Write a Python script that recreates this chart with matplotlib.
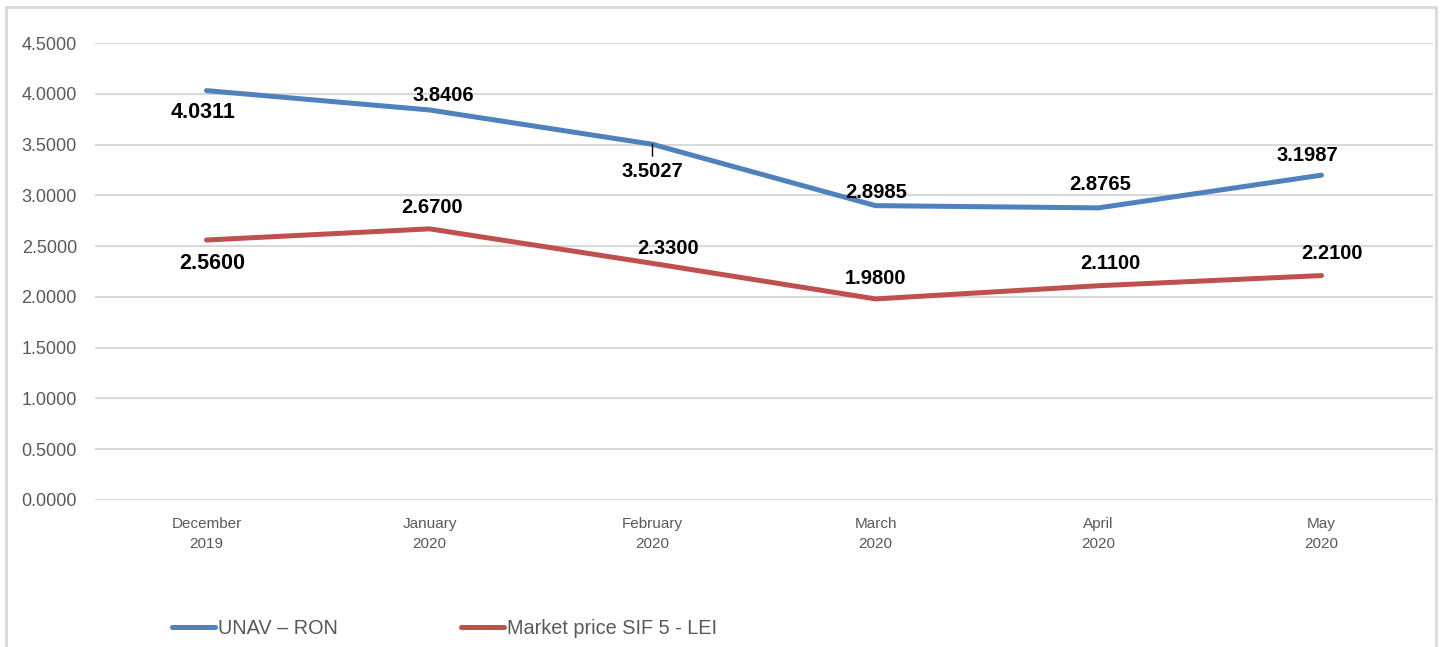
import matplotlib
matplotlib.use("Agg")
import matplotlib.pyplot as plt
from matplotlib.patches import Rectangle

categories = ["December\n2019", "January\n2020", "February\n2020", "March\n2020", "April\n2020", "May\n2020"]
unav_ron = [4.0311, 3.8406, 3.5027, 2.8985, 2.8765, 3.1987]
market_price = [2.5600, 2.6700, 2.3300, 1.9800, 2.1100, 2.2100]
series_names = ["UNAV – RON", "Market price SIF 5 - LEI"]
y_ticks = [0.0, 0.5, 1.0, 1.5, 2.0, 2.5, 3.0, 3.5, 4.0, 4.5]

# label offsets in pixels (dx, dy) relative to each point
unav_offsets = [(-3, -22), (14, 14), (0, -27), (1, 13), (2, 23), (-14, 20)]
market_offsets = [(6, -23), (3, 21), (16, 15), (0, 20), (12, 22), (10, 22)]
unav_sizes = [15.5, 14.5, 14.5, 14.5, 14.5, 14.5]
market_sizes = [15.5, 14.5, 14.5, 14.5, 14.5, 14.5]

plt.rcParams['font.family'] = ['Liberation Sans', 'DejaVu Sans']

fig = plt.figure(figsize=(14.42, 6.47), dpi=100)
ax = fig.add_axes([95/1442, 147/647, 1338/1442, 457/647])

blue = "#4F81BD"
red = "#C0504D"
gray_text = "#595959"
grid = "#D9D9D9"

x = list(range(len(categories)))
l1, = ax.plot(x, unav_ron, color=blue, lw=3.6, solid_capstyle='round', label=series_names[0], zorder=3)
l2, = ax.plot(x, market_price, color=red, lw=3.6, solid_capstyle='round', label=series_names[1], zorder=3)

ax.set_xlim(-0.5, len(categories) - 0.5)
ax.set_ylim(0, 4.5)
ax.set_yticks(y_ticks)
ax.set_yticklabels([f"{v:.4f}" for v in y_ticks])
ax.set_xticks(x)
ax.set_xticklabels(categories, linespacing=1.55)
ax.yaxis.grid(True, color=grid, lw=1.5)
ax.set_axisbelow(True)
for s in ax.spines.values():
    s.set_visible(False)
ax.tick_params(axis='both', length=0, colors=gray_text)
ax.tick_params(axis='y', labelsize=13, pad=13)
ax.tick_params(axis='x', labelsize=11, pad=12)

for i, v in enumerate(unav_ron):
    dx, dy = unav_offsets[i]
    kw = {}
    if i == 2:
        kw['arrowprops'] = dict(arrowstyle='-', color='black', lw=1, shrinkA=2, shrinkB=0)
    ax.annotate(f"{v:.4f}", (i, v), xytext=(dx, dy), textcoords='offset pixels',
                ha='center', va='center', fontsize=unav_sizes[i], fontweight='bold',
                color='black', zorder=4, **kw)
for i, v in enumerate(market_price):
    dx, dy = market_offsets[i]
    ax.annotate(f"{v:.4f}", (i, v), xytext=(dx, dy), textcoords='offset pixels',
                ha='center', va='center', fontsize=market_sizes[i], fontweight='bold',
                color='black', zorder=4)

leg = fig.legend(handles=[l1, l2], loc='center left', bbox_to_anchor=(172/1442, 1 - 628/647),
                 ncol=2, frameon=False, fontsize=14.3, handlelength=2.16, handletextpad=0.15,
                 columnspacing=6.2, borderaxespad=0, borderpad=0)
for t in leg.get_texts():
    t.set_color(gray_text)

fig.patches.append(Rectangle((6/1442, -0.05), 1430/1442, 1.05 - 7/647, transform=fig.transFigure,
                             fill=False, edgecolor=grid, lw=2))

fig.savefig("out.png", dpi=100)
